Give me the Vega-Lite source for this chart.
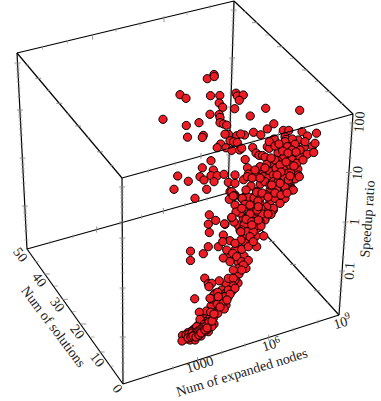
{"$schema":"https://vega.github.io/schema/vega-lite/v6.json","width":381,"height":401,"padding":0,"autosize":{"type":"fit","contains":"padding"},"background":"white","config":{"view":{"stroke":null}},
"datasets":{
"edges":[{"x":27,"y":249,"x2":228,"y2":193,"part":"back"},{"x":339,"y":315,"x2":228,"y2":193,"part":"back"},{"x":234,"y":1,"x2":228,"y2":193,"part":"back"},{"x":17,"y":53,"x2":234,"y2":1,"part":"back"},{"x":234,"y":1,"x2":353,"y2":114,"part":"back"},{"x":17,"y":53,"x2":122,"y2":178,"part":"back"},{"x":17,"y":53,"x2":27,"y2":249,"part":"back"},{"x":27,"y":249,"x2":123,"y2":384,"part":"back"},{"x":123,"y":384,"x2":339,"y2":315,"part":"back"},{"x":122,"y":178,"x2":123,"y2":384,"part":"back"},{"x":353,"y":114,"x2":339,"y2":315,"part":"back"},{"x":122,"y":178,"x2":353,"y2":114,"part":"front"}],
"tickrows":[
{"x":352.4,"y":123,"kind":"zM"},{"x":348.9,"y":172.6,"kind":"zM"},{"x":345.5,"y":222,"kind":"zM"},{"x":342.1,"y":271,"kind":"zM"},
{"x":17.5,"y":63,"kind":"zM"},{"x":19.9,"y":110,"kind":"zM"},{"x":22.4,"y":158,"kind":"zM"},{"x":24.8,"y":206,"kind":"zM"},
{"x":122.1,"y":187,"kind":"zM"},{"x":122.3,"y":238,"kind":"zM"},{"x":122.5,"y":288,"kind":"zM"},{"x":122.8,"y":337,"kind":"zM"},
{"x":233.7,"y":10,"kind":"zM"},{"x":232.2,"y":58,"kind":"zM"},{"x":230.7,"y":107,"kind":"zM"},{"x":229.2,"y":155,"kind":"zM"},
{"x":352.2,"y":125,"kind":"zm"},{"x":352,"y":128,"kind":"zm"},{"x":351.8,"y":131,"kind":"zm"},{"x":351.6,"y":134,"kind":"zm"},{"x":351.3,"y":138,"kind":"zm"},{"x":351,"y":143,"kind":"zm"},{"x":350.6,"y":149,"kind":"zm"},{"x":350,"y":158,"kind":"zm"},
{"x":348.7,"y":175,"kind":"zm"},{"x":348.5,"y":178,"kind":"zm"},{"x":348.4,"y":180,"kind":"zm"},{"x":348.1,"y":184,"kind":"zm"},{"x":347.8,"y":188,"kind":"zm"},{"x":347.6,"y":192,"kind":"zm"},{"x":347,"y":198,"kind":"zm"},{"x":346.5,"y":207,"kind":"zm"},
{"x":345.3,"y":224,"kind":"zm"},{"x":345.1,"y":227,"kind":"zm"},{"x":344.9,"y":230,"kind":"zm"},{"x":344.7,"y":233,"kind":"zm"},{"x":344.4,"y":237,"kind":"zm"},{"x":344.1,"y":242,"kind":"zm"},{"x":343.7,"y":248,"kind":"zm"},{"x":343,"y":257,"kind":"zm"},
{"x":341.9,"y":273,"kind":"zm"},{"x":341.7,"y":276,"kind":"zm"},{"x":341.5,"y":279,"kind":"zm"},{"x":341.3,"y":282,"kind":"zm"},{"x":341,"y":286,"kind":"zm"},{"x":340.7,"y":291,"kind":"zm"},{"x":340.2,"y":297,"kind":"zm"},{"x":339.6,"y":306,"kind":"zm"},
{"x":17.6,"y":65,"kind":"zm"},{"x":17.8,"y":68,"kind":"zm"},{"x":17.9,"y":70,"kind":"zm"},{"x":18.1,"y":74,"kind":"zm"},{"x":18.2,"y":77,"kind":"zm"},{"x":18.5,"y":82,"kind":"zm"},{"x":18.8,"y":88,"kind":"zm"},{"x":19.2,"y":97,"kind":"zm"},
{"x":20,"y":112,"kind":"zm"},{"x":20.2,"y":115,"kind":"zm"},{"x":20.3,"y":117,"kind":"zm"},{"x":20.5,"y":121,"kind":"zm"},{"x":20.6,"y":124,"kind":"zm"},{"x":20.9,"y":129,"kind":"zm"},{"x":21.2,"y":135,"kind":"zm"},{"x":21.6,"y":144,"kind":"zm"},
{"x":22.5,"y":160,"kind":"zm"},{"x":22.6,"y":163,"kind":"zm"},{"x":22.7,"y":165,"kind":"zm"},{"x":22.9,"y":169,"kind":"zm"},{"x":23,"y":172,"kind":"zm"},{"x":23.3,"y":177,"kind":"zm"},{"x":23.6,"y":183,"kind":"zm"},{"x":24.1,"y":192,"kind":"zm"},
{"x":24.9,"y":208,"kind":"zm"},{"x":25.1,"y":211,"kind":"zm"},{"x":25.2,"y":213,"kind":"zm"},{"x":25.4,"y":217,"kind":"zm"},{"x":25.5,"y":220,"kind":"zm"},{"x":25.8,"y":225,"kind":"zm"},{"x":26.1,"y":231,"kind":"zm"},{"x":26.5,"y":240,"kind":"zm"},
{"x":122.1,"y":189,"kind":"zm"},{"x":122.1,"y":192,"kind":"zm"},{"x":122.1,"y":195,"kind":"zm"},{"x":122.1,"y":198,"kind":"zm"},{"x":122.2,"y":202,"kind":"zm"},{"x":122.2,"y":207,"kind":"zm"},{"x":122.2,"y":213,"kind":"zm"},{"x":122.2,"y":222,"kind":"zm"},
{"x":122.3,"y":240,"kind":"zm"},{"x":122.3,"y":243,"kind":"zm"},{"x":122.3,"y":246,"kind":"zm"},{"x":122.4,"y":249,"kind":"zm"},{"x":122.4,"y":253,"kind":"zm"},{"x":122.4,"y":258,"kind":"zm"},{"x":122.4,"y":264,"kind":"zm"},{"x":122.5,"y":273,"kind":"zm"},
{"x":122.5,"y":290,"kind":"zm"},{"x":122.6,"y":293,"kind":"zm"},{"x":122.6,"y":296,"kind":"zm"},{"x":122.6,"y":299,"kind":"zm"},{"x":122.6,"y":303,"kind":"zm"},{"x":122.6,"y":308,"kind":"zm"},{"x":122.7,"y":314,"kind":"zm"},{"x":122.7,"y":323,"kind":"zm"},
{"x":122.8,"y":339,"kind":"zm"},{"x":122.8,"y":342,"kind":"zm"},{"x":122.8,"y":345,"kind":"zm"},{"x":122.8,"y":348,"kind":"zm"},{"x":122.8,"y":352,"kind":"zm"},{"x":122.9,"y":357,"kind":"zm"},{"x":122.9,"y":363,"kind":"zm"},{"x":122.9,"y":372,"kind":"zm"},
{"x":233.7,"y":12,"kind":"zm"},{"x":233.6,"y":15,"kind":"zm"},{"x":233.5,"y":18,"kind":"zm"},{"x":233.4,"y":21,"kind":"zm"},{"x":233.3,"y":25,"kind":"zm"},{"x":233.1,"y":30,"kind":"zm"},{"x":232.9,"y":36,"kind":"zm"},{"x":232.6,"y":45,"kind":"zm"},
{"x":232.2,"y":60,"kind":"zm"},{"x":232.1,"y":63,"kind":"zm"},{"x":232,"y":66,"kind":"zm"},{"x":231.9,"y":69,"kind":"zm"},{"x":231.8,"y":73,"kind":"zm"},{"x":231.6,"y":78,"kind":"zm"},{"x":231.4,"y":84,"kind":"zm"},{"x":231.1,"y":93,"kind":"zm"},
{"x":230.6,"y":109,"kind":"zm"},{"x":230.5,"y":112,"kind":"zm"},{"x":230.4,"y":115,"kind":"zm"},{"x":230.3,"y":118,"kind":"zm"},{"x":230.2,"y":122,"kind":"zm"},{"x":230.1,"y":127,"kind":"zm"},{"x":229.9,"y":133,"kind":"zm"},{"x":229.6,"y":142,"kind":"zm"},
{"x":229.1,"y":157,"kind":"zm"},{"x":229,"y":160,"kind":"zm"},{"x":228.9,"y":163,"kind":"zm"},{"x":228.8,"y":166,"kind":"zm"},{"x":228.7,"y":170,"kind":"zm"},{"x":228.6,"y":175,"kind":"zm"},{"x":228.4,"y":181,"kind":"zm"},{"x":228.1,"y":190,"kind":"zm"},
{"x":197.5,"y":360.2,"kind":"xM"},{"x":268.7,"y":337.5,"kind":"xM"},{"x":96.7,"y":229.6,"kind":"xM"},{"x":163.3,"y":211,"kind":"xM"},{"x":92.7,"y":36.7,"kind":"xM"},{"x":164,"y":19.3,"kind":"xM"},
{"x":148,"y":376,"kind":"xm"},{"x":173,"y":368,"kind":"xm"},{"x":221.7,"y":352.5,"kind":"xm"},{"x":245,"y":345,"kind":"xm"},{"x":293,"y":329.7,"kind":"xm"},{"x":318,"y":321.7,"kind":"xm"},
{"x":50,"y":242.6,"kind":"xm"},{"x":73,"y":236.2,"kind":"xm"},{"x":120,"y":223,"kind":"xm"},{"x":141.7,"y":217,"kind":"xm"},{"x":185,"y":205,"kind":"xm"},{"x":207,"y":198.9,"kind":"xm"},
{"x":42.7,"y":47.7,"kind":"xm"},{"x":67.7,"y":41.7,"kind":"xm"},{"x":116,"y":30,"kind":"xm"},{"x":140,"y":24,"kind":"xm"},{"x":187,"y":13.3,"kind":"xm"},{"x":210,"y":7,"kind":"xm"},
{"x":201,"y":156.1,"kind":"fM"},{"x":278.5,"y":134.6,"kind":"fM"},
{"x":148.5,"y":170.7,"kind":"fm"},{"x":175,"y":163.4,"kind":"fm"},{"x":227,"y":148.9,"kind":"fm"},{"x":253,"y":141.7,"kind":"fm"},{"x":304,"y":127.6,"kind":"fm"},{"x":330,"y":120.4,"kind":"fm"},
{"x":46.7,"y":274,"kind":"zM"},{"x":65,"y":299.3,"kind":"zM"},{"x":83.3,"y":324,"kind":"zM"},{"x":101.7,"y":352,"kind":"zM"},
{"x":36.7,"y":261.7,"kind":"zm"},{"x":56,"y":286,"kind":"zm"},{"x":74,"y":311.7,"kind":"zm"},{"x":92.7,"y":337,"kind":"zm"},{"x":111.7,"y":366,"kind":"zm"},
{"x":38.3,"y":78.3,"kind":"zM"},{"x":59.3,"y":103.3,"kind":"zM"},{"x":78.3,"y":126,"kind":"zM"},{"x":100,"y":151.8,"kind":"zM"},
{"x":27,"y":65,"kind":"zm"},{"x":48.3,"y":90.3,"kind":"zm"},{"x":68.3,"y":114,"kind":"zm"},{"x":88.3,"y":137.8,"kind":"zm"},{"x":111.7,"y":165.7,"kind":"zm"},
{"x":255,"y":22.7,"kind":"zM"},{"x":280,"y":46.7,"kind":"zM"},{"x":305,"y":70,"kind":"zM"},{"x":328.3,"y":91.7,"kind":"zM"},
{"x":245,"y":11.7,"kind":"zm"},{"x":267.3,"y":35,"kind":"zm"},{"x":291.7,"y":58.3,"kind":"zm"},{"x":316.7,"y":81.7,"kind":"zm"},{"x":341.7,"y":103.3,"kind":"zm"},
{"x":250,"y":217,"kind":"zM"},{"x":272,"y":241.4,"kind":"zM"},{"x":293,"y":264.4,"kind":"zM"},{"x":317,"y":290.8,"kind":"zM"},
{"x":239,"y":205,"kind":"zm"},{"x":261,"y":229.2,"kind":"zm"},{"x":283,"y":253.4,"kind":"zm"},{"x":305,"y":277.6,"kind":"zm"},{"x":328,"y":302.8,"kind":"zm"}
],
"labels":[
{"x":360,"y":122,"text":"100","g":"z"},{"x":358,"y":173,"text":"10","g":"z"},{"x":355,"y":222,"text":"1","g":"z"},{"x":350,"y":271,"text":"0.1","g":"z"},{"x":368,"y":219,"text":"Speedup ratio","g":"z"},
{"x":20,"y":255,"text":"50","g":"y"},{"x":39,"y":280,"text":"40","g":"y"},{"x":57,"y":305,"text":"30","g":"y"},{"x":77,"y":332,"text":"20","g":"y"},{"x":97,"y":360,"text":"10","g":"y"},{"x":117,"y":389,"text":"0","g":"y"},{"x":53,"y":327,"text":"Num of solutions","g":"y"},
{"x":200,"y":365,"text":"1000","g":"x"},{"x":269.3,"y":345.7,"text":"10","g":"x"},{"x":340.7,"y":323.3,"text":"10","g":"x"},{"x":242,"y":373,"text":"Num of expanded nodes","g":"x"},
{"x":277.3,"y":340,"text":"6","g":"s"},{"x":347.3,"y":316,"text":"9","g":"s"}
],
"points":[
{"x":214,"y":74.5},{"x":207.3,"y":78.7},{"x":214.3,"y":76.5},{"x":180,"y":94.7},{"x":186,"y":98.3},{"x":163,"y":119.3},{"x":186.3,"y":125.5},{"x":187.5,"y":137.2},{"x":199,"y":122.7},{"x":210.5,"y":95.7},{"x":219.8,"y":95.5},{"x":236,"y":93.2},{"x":237.3,"y":96},{"x":243.3,"y":95},{"x":239.3,"y":100.3},{"x":219.2,"y":103},{"x":222.7,"y":107.3},{"x":234.7,"y":108.7},{"x":210,"y":114.3},{"x":219.2,"y":114.6},{"x":220,"y":117.5},{"x":250.2,"y":116},{"x":265.7,"y":108.3},{"x":299.7,"y":110.3},{"x":220,"y":122.7},{"x":223.5,"y":124},{"x":226.7,"y":125.2},{"x":273.8,"y":123.8},{"x":267.3,"y":128.9},{"x":283.3,"y":130.4},{"x":288.8,"y":130.4},{"x":253.5,"y":132.3},{"x":260.8,"y":134.8},{"x":244.5,"y":135},{"x":236.8,"y":135.7},{"x":228.5,"y":134.5},{"x":225,"y":134.2},{"x":240.7,"y":134},{"x":203.3,"y":135.4},{"x":202.3,"y":137.5},{"x":302,"y":131.7},{"x":316.5,"y":133.2},{"x":307.5,"y":136},{"x":285,"y":136.7},{"x":286,"y":139.3},{"x":273.3,"y":139.6},{"x":270,"y":141.7},{"x":267.3,"y":146.8},{"x":230,"y":140.8},{"x":233.6,"y":141.8},{"x":237.3,"y":142.5},{"x":220.7,"y":144},{"x":217.2,"y":147.7},{"x":226,"y":147.8},{"x":231.7,"y":150.3},{"x":239.6,"y":150},{"x":241.7,"y":148.2},{"x":252.7,"y":147.5},{"x":256,"y":153},{"x":259,"y":155.3},{"x":262.5,"y":155.5},{"x":265.2,"y":157.2},{"x":269.3,"y":148.3},{"x":287.5,"y":145},{"x":295.5,"y":144.7},{"x":298.3,"y":140},{"x":304.3,"y":147.2},{"x":312.5,"y":146.3},{"x":305,"y":141.7},{"x":315,"y":143.3},{"x":307.3,"y":154.2},{"x":313.7,"y":152.5},{"x":299.3,"y":156.3},{"x":291.7,"y":157},{"x":283.6,"y":150.7},{"x":278,"y":152.5},{"x":283.6,"y":157.8},{"x":292,"y":159.7},{"x":270,"y":163.3},{"x":277.5,"y":160.5},{"x":245.2,"y":159.5},{"x":211,"y":160.7},{"x":247.5,"y":167.8},{"x":202.3,"y":167.8},{"x":213.3,"y":170},{"x":260,"y":170},{"x":200,"y":176.7},{"x":204,"y":180},{"x":211,"y":175.7},{"x":217.3,"y":175.7},{"x":224,"y":174.3},{"x":235,"y":175},{"x":214,"y":181.7},{"x":228.3,"y":182.3},{"x":235,"y":183.3},{"x":243.5,"y":179.7},{"x":248.3,"y":174},{"x":256,"y":176},{"x":262.7,"y":170.3},{"x":270,"y":171.7},{"x":276.5,"y":169},{"x":285,"y":173.3},{"x":291.7,"y":170.4},{"x":297.8,"y":169},{"x":298.3,"y":175},{"x":295,"y":179},{"x":283,"y":178.3},{"x":276.7,"y":181.7},{"x":270,"y":180},{"x":263.3,"y":176.7},{"x":260.3,"y":184.2},{"x":283.3,"y":186.7},{"x":290,"y":185},{"x":291.7,"y":188.3},{"x":288.3,"y":181.7},{"x":276.7,"y":190},{"x":270,"y":190},{"x":256.7,"y":191.4},{"x":230,"y":191.7},{"x":206.7,"y":189.3},{"x":235,"y":195},{"x":245,"y":196.7},{"x":253.5,"y":197},{"x":291.7,"y":190},{"x":285,"y":191.7},{"x":177.7,"y":176},{"x":188.3,"y":181.3},{"x":174,"y":189.3},{"x":195,"y":198.3},{"x":268.3,"y":178.3},{"x":265,"y":181.7},{"x":270,"y":185},{"x":285,"y":186.7},{"x":273.3,"y":175},{"x":283.3,"y":166.7},{"x":276,"y":168.3},{"x":241.7,"y":198.3},{"x":248.3,"y":197.3},{"x":254,"y":198.3},{"x":245,"y":206.7},{"x":253.3,"y":206.7},{"x":260,"y":203.3},{"x":270,"y":201.7},{"x":280,"y":201.7},{"x":265,"y":210},{"x":273.3,"y":210},{"x":246.7,"y":216.7},{"x":256.7,"y":215},{"x":265,"y":218.3},{"x":275,"y":198.3},{"x":266.7,"y":195},
{"x":292.3,"y":139},{"x":285,"y":141.7},{"x":295,"y":144.3},{"x":287.3,"y":146.7},{"x":282.7,"y":151},{"x":275,"y":160},{"x":274.3,"y":139},{"x":269.3,"y":141.7},{"x":290,"y":165},{"x":280,"y":165},{"x":266.7,"y":164.3},{"x":260,"y":166.7},{"x":296.7,"y":163.3},{"x":273.3,"y":181.7},{"x":278.3,"y":181.7},{"x":288.3,"y":180},{"x":299.3,"y":176.7},{"x":247.3,"y":176.7},{"x":256.7,"y":176.7},
{"x":293.3,"y":190},{"x":280,"y":183.3},{"x":271.7,"y":185},{"x":256.7,"y":192.3},{"x":231.7,"y":191.7},{"x":234.3,"y":195.7},{"x":242.3,"y":198.3},{"x":245,"y":204.3},{"x":235,"y":205},{"x":260.7,"y":197.7},{"x":285,"y":198.3},{"x":280,"y":203.3},{"x":273.3,"y":208.3},{"x":266.7,"y":206.7},{"x":264.3,"y":212.3},{"x":261,"y":208.3},{"x":271,"y":214.3},{"x":231.7,"y":217.7},{"x":243.3,"y":218.3},{"x":253.3,"y":218.3},{"x":258.3,"y":227.7},{"x":265,"y":220},{"x":248.3,"y":223.3},{"x":255,"y":221.7},{"x":240,"y":230},{"x":246.7,"y":230},{"x":253.3,"y":231.7},{"x":260,"y":221.7},{"x":225,"y":224.3},
{"x":275,"y":146},{"x":279,"y":144},{"x":292,"y":150},{"x":300,"y":150},{"x":296,"y":152},{"x":288,"y":153},{"x":286,"y":162},{"x":294,"y":166},{"x":303,"y":160},{"x":281,"y":172},{"x":290,"y":176},{"x":277,"y":175},{"x":271,"y":158},{"x":265,"y":168},{"x":255,"y":170},{"x":252,"y":178},{"x":260,"y":178},{"x":251,"y":186},{"x":246,"y":190},{"x":262,"y":193},{"x":268,"y":197},{"x":275,"y":193},{"x":281,"y":195},{"x":287,"y":193},{"x":258,"y":201},{"x":252,"y":210},{"x":262,"y":214},{"x":257,"y":210},{"x":268,"y":214},{"x":240,"y":213},{"x":236,"y":212},{"x":238,"y":225},{"x":234,"y":222},{"x":244,"y":225},{"x":250,"y":214},{"x":255,"y":226},{"x":261,"y":226},{"x":246,"y":238},{"x":256,"y":236},{"x":245,"y":243},{"x":241,"y":240},{"x":238,"y":249},{"x":235,"y":250},{"x":229,"y":256},{"x":238,"y":262},{"x":244,"y":256},{"x":236,"y":276},{"x":239,"y":274},{"x":231,"y":283},{"x":226,"y":285},{"x":238,"y":283},{"x":222,"y":290},{"x":224,"y":294},{"x":232,"y":291},{"x":220,"y":300},{"x":214,"y":301},{"x":226,"y":305},{"x":219,"y":308},{"x":211,"y":306},{"x":203,"y":317},{"x":207,"y":317},{"x":214,"y":324},{"x":208,"y":325},{"x":201,"y":336},{"x":197,"y":330},{"x":193,"y":330},{"x":186,"y":339},{"x":190,"y":340},{"x":210,"y":318},
{"x":229.3,"y":199.3},{"x":233.3,"y":196},{"x":241.7,"y":208.3},{"x":250,"y":205},{"x":258.3,"y":206.7},{"x":246,"y":219.3},{"x":251.7,"y":221.7},{"x":258.3,"y":220},{"x":241.7,"y":230},{"x":247.3,"y":231.7},{"x":253.3,"y":231.7},{"x":251.7,"y":225},{"x":209.3,"y":214.8},{"x":208.3,"y":224.2},{"x":215.7,"y":220.4},{"x":224.5,"y":223.8},{"x":209.3,"y":232.5},{"x":231.8,"y":217.3},{"x":223.3,"y":235},{"x":230,"y":240.7},{"x":235,"y":243.3},{"x":208.3,"y":246.7},{"x":218.3,"y":246.7},{"x":222.7,"y":241.7},{"x":203.3,"y":253.7},{"x":190.5,"y":251.2},{"x":190.5,"y":260.5},{"x":223.3,"y":258},{"x":226.7,"y":250},{"x":232.7,"y":253.3},{"x":236.7,"y":256.7},{"x":241.7,"y":249.3},{"x":240.7,"y":231.7},{"x":248.3,"y":246.7},{"x":256.7,"y":246.7},{"x":263.7,"y":236},{"x":250,"y":236.7},{"x":253.3,"y":241.7},{"x":230,"y":261.7},{"x":241.7,"y":261.7},{"x":248.3,"y":260.4},{"x":246,"y":268.3},{"x":238.8,"y":268.3},{"x":233.3,"y":270},{"x":243.3,"y":265},{"x":241.7,"y":270},{"x":204.8,"y":278.2},{"x":208.3,"y":283.8},{"x":211.7,"y":283.3},{"x":219.3,"y":280.8},{"x":228.3,"y":278.3},{"x":235,"y":280},{"x":233.3,"y":278.3},{"x":233.3,"y":286},{"x":228.3,"y":290},{"x":235,"y":288.3},{"x":215,"y":293.3},{"x":214,"y":295},{"x":211,"y":299},{"x":221.7,"y":296},{"x":228.3,"y":296.7},{"x":225,"y":296.7},{"x":194.7,"y":298.8},{"x":217.3,"y":304.2},{"x":223.3,"y":303.3},{"x":224.2,"y":309},{"x":206.4,"y":311},{"x":199.3,"y":312.2},{"x":210.7,"y":312.2},{"x":217.5,"y":311.7},{"x":213.3,"y":318.3},{"x":205,"y":321.7},{"x":203.3,"y":323.3},{"x":198.3,"y":325},{"x":195,"y":328.3},{"x":190.7,"y":331.7},{"x":182.5,"y":335.4},{"x":182,"y":341},{"x":195,"y":340},{"x":203.3,"y":331.7},{"x":208.3,"y":331.7},{"x":211.7,"y":325},
{"x":209,"y":286.7},{"x":217.7,"y":292.3},{"x":210,"y":298.3},{"x":218.3,"y":296.7},{"x":230,"y":294.3},{"x":217.7,"y":313.3},{"x":200,"y":319.3},{"x":204.3,"y":324.3},{"x":196.7,"y":326.7},{"x":187.7,"y":332.7},{"x":211.7,"y":326.7},{"x":206.7,"y":330},{"x":199,"y":335},{"x":193.3,"y":335},
{"x":186,"y":335},{"x":189,"y":334},{"x":192,"y":333},{"x":194,"y":335},{"x":196,"y":333},{"x":198,"y":331},{"x":200,"y":330},{"x":202,"y":328},{"x":204,"y":327},{"x":206,"y":326},{"x":209,"y":322},{"x":188,"y":338},{"x":191,"y":337},{"x":193,"y":336},{"x":196,"y":337},{"x":199,"y":335},{"x":201,"y":333},{"x":205,"y":330},{"x":207,"y":328},{"x":212,"y":321},{"x":214,"y":314},{"x":220,"y":307},{"x":227,"y":300}
]},
"encoding":{"x":{"field":"x","type":"quantitative","axis":null,"scale":{"domain":[0,381],"nice":false,"zero":false}},"y":{"field":"y","type":"quantitative","axis":null,"scale":{"domain":[401,0],"nice":false,"zero":false}}},
"layer":[
{"data":{"name":"edges"},"transform":[{"filter":"datum.part=='back'"}],"mark":{"type":"rule","stroke":"#000","strokeWidth":1.2},"encoding":{"x2":{"field":"x2"},"y2":{"field":"y2"}}},
{"data":{"name":"tickrows"},"transform":[{"filter":"datum.kind=='zM'"}],"mark":{"type":"tick","orient":"horizontal","size":6,"thickness":0.9,"color":"#8a8a8a","opacity":1}},
{"data":{"name":"tickrows"},"transform":[{"filter":"datum.kind=='zm'"}],"mark":{"type":"tick","orient":"horizontal","size":4,"thickness":0.7,"color":"#999","opacity":1}},
{"data":{"name":"tickrows"},"transform":[{"filter":"datum.kind=='xM'"}],"mark":{"type":"tick","orient":"vertical","size":6,"thickness":0.9,"color":"#8a8a8a","opacity":1}},
{"data":{"name":"tickrows"},"transform":[{"filter":"datum.kind=='xm'"}],"mark":{"type":"tick","orient":"vertical","size":4,"thickness":0.7,"color":"#999","opacity":1}},
{"data":{"name":"points"},"mark":{"type":"circle","size":68,"fill":"#ee1c25","stroke":"#000","strokeWidth":1,"opacity":1}},
{"data":{"name":"edges"},"transform":[{"filter":"datum.part=='front'"}],"mark":{"type":"rule","stroke":"#000","strokeWidth":1.2},"encoding":{"x2":{"field":"x2"},"y2":{"field":"y2"}}},
{"data":{"name":"tickrows"},"transform":[{"filter":"datum.kind=='fM'"}],"mark":{"type":"tick","orient":"vertical","size":6,"thickness":0.9,"color":"#8a8a8a","opacity":1}},
{"data":{"name":"tickrows"},"transform":[{"filter":"datum.kind=='fm'"}],"mark":{"type":"tick","orient":"vertical","size":4,"thickness":0.7,"color":"#999","opacity":1}},
{"data":{"name":"labels"},"transform":[{"filter":"datum.g=='z'"}],"mark":{"type":"text","font":"Liberation Serif","fontSize":14,"angle":-86,"align":"center","baseline":"middle","fill":"#222"},"encoding":{"text":{"field":"text"}}},
{"data":{"name":"labels"},"transform":[{"filter":"datum.g=='y'"}],"mark":{"type":"text","font":"Liberation Serif","fontSize":14,"angle":53,"align":"center","baseline":"middle","fill":"#222"},"encoding":{"text":{"field":"text"}}},
{"data":{"name":"labels"},"transform":[{"filter":"datum.g=='x'"}],"mark":{"type":"text","font":"Liberation Serif","fontSize":14,"angle":-17,"align":"center","baseline":"middle","fill":"#222"},"encoding":{"text":{"field":"text"}}},
{"data":{"name":"labels"},"transform":[{"filter":"datum.g=='s'"}],"mark":{"type":"text","font":"Liberation Serif","fontSize":10,"angle":-17,"align":"center","baseline":"middle","fill":"#222"},"encoding":{"text":{"field":"text"}}}
]}
